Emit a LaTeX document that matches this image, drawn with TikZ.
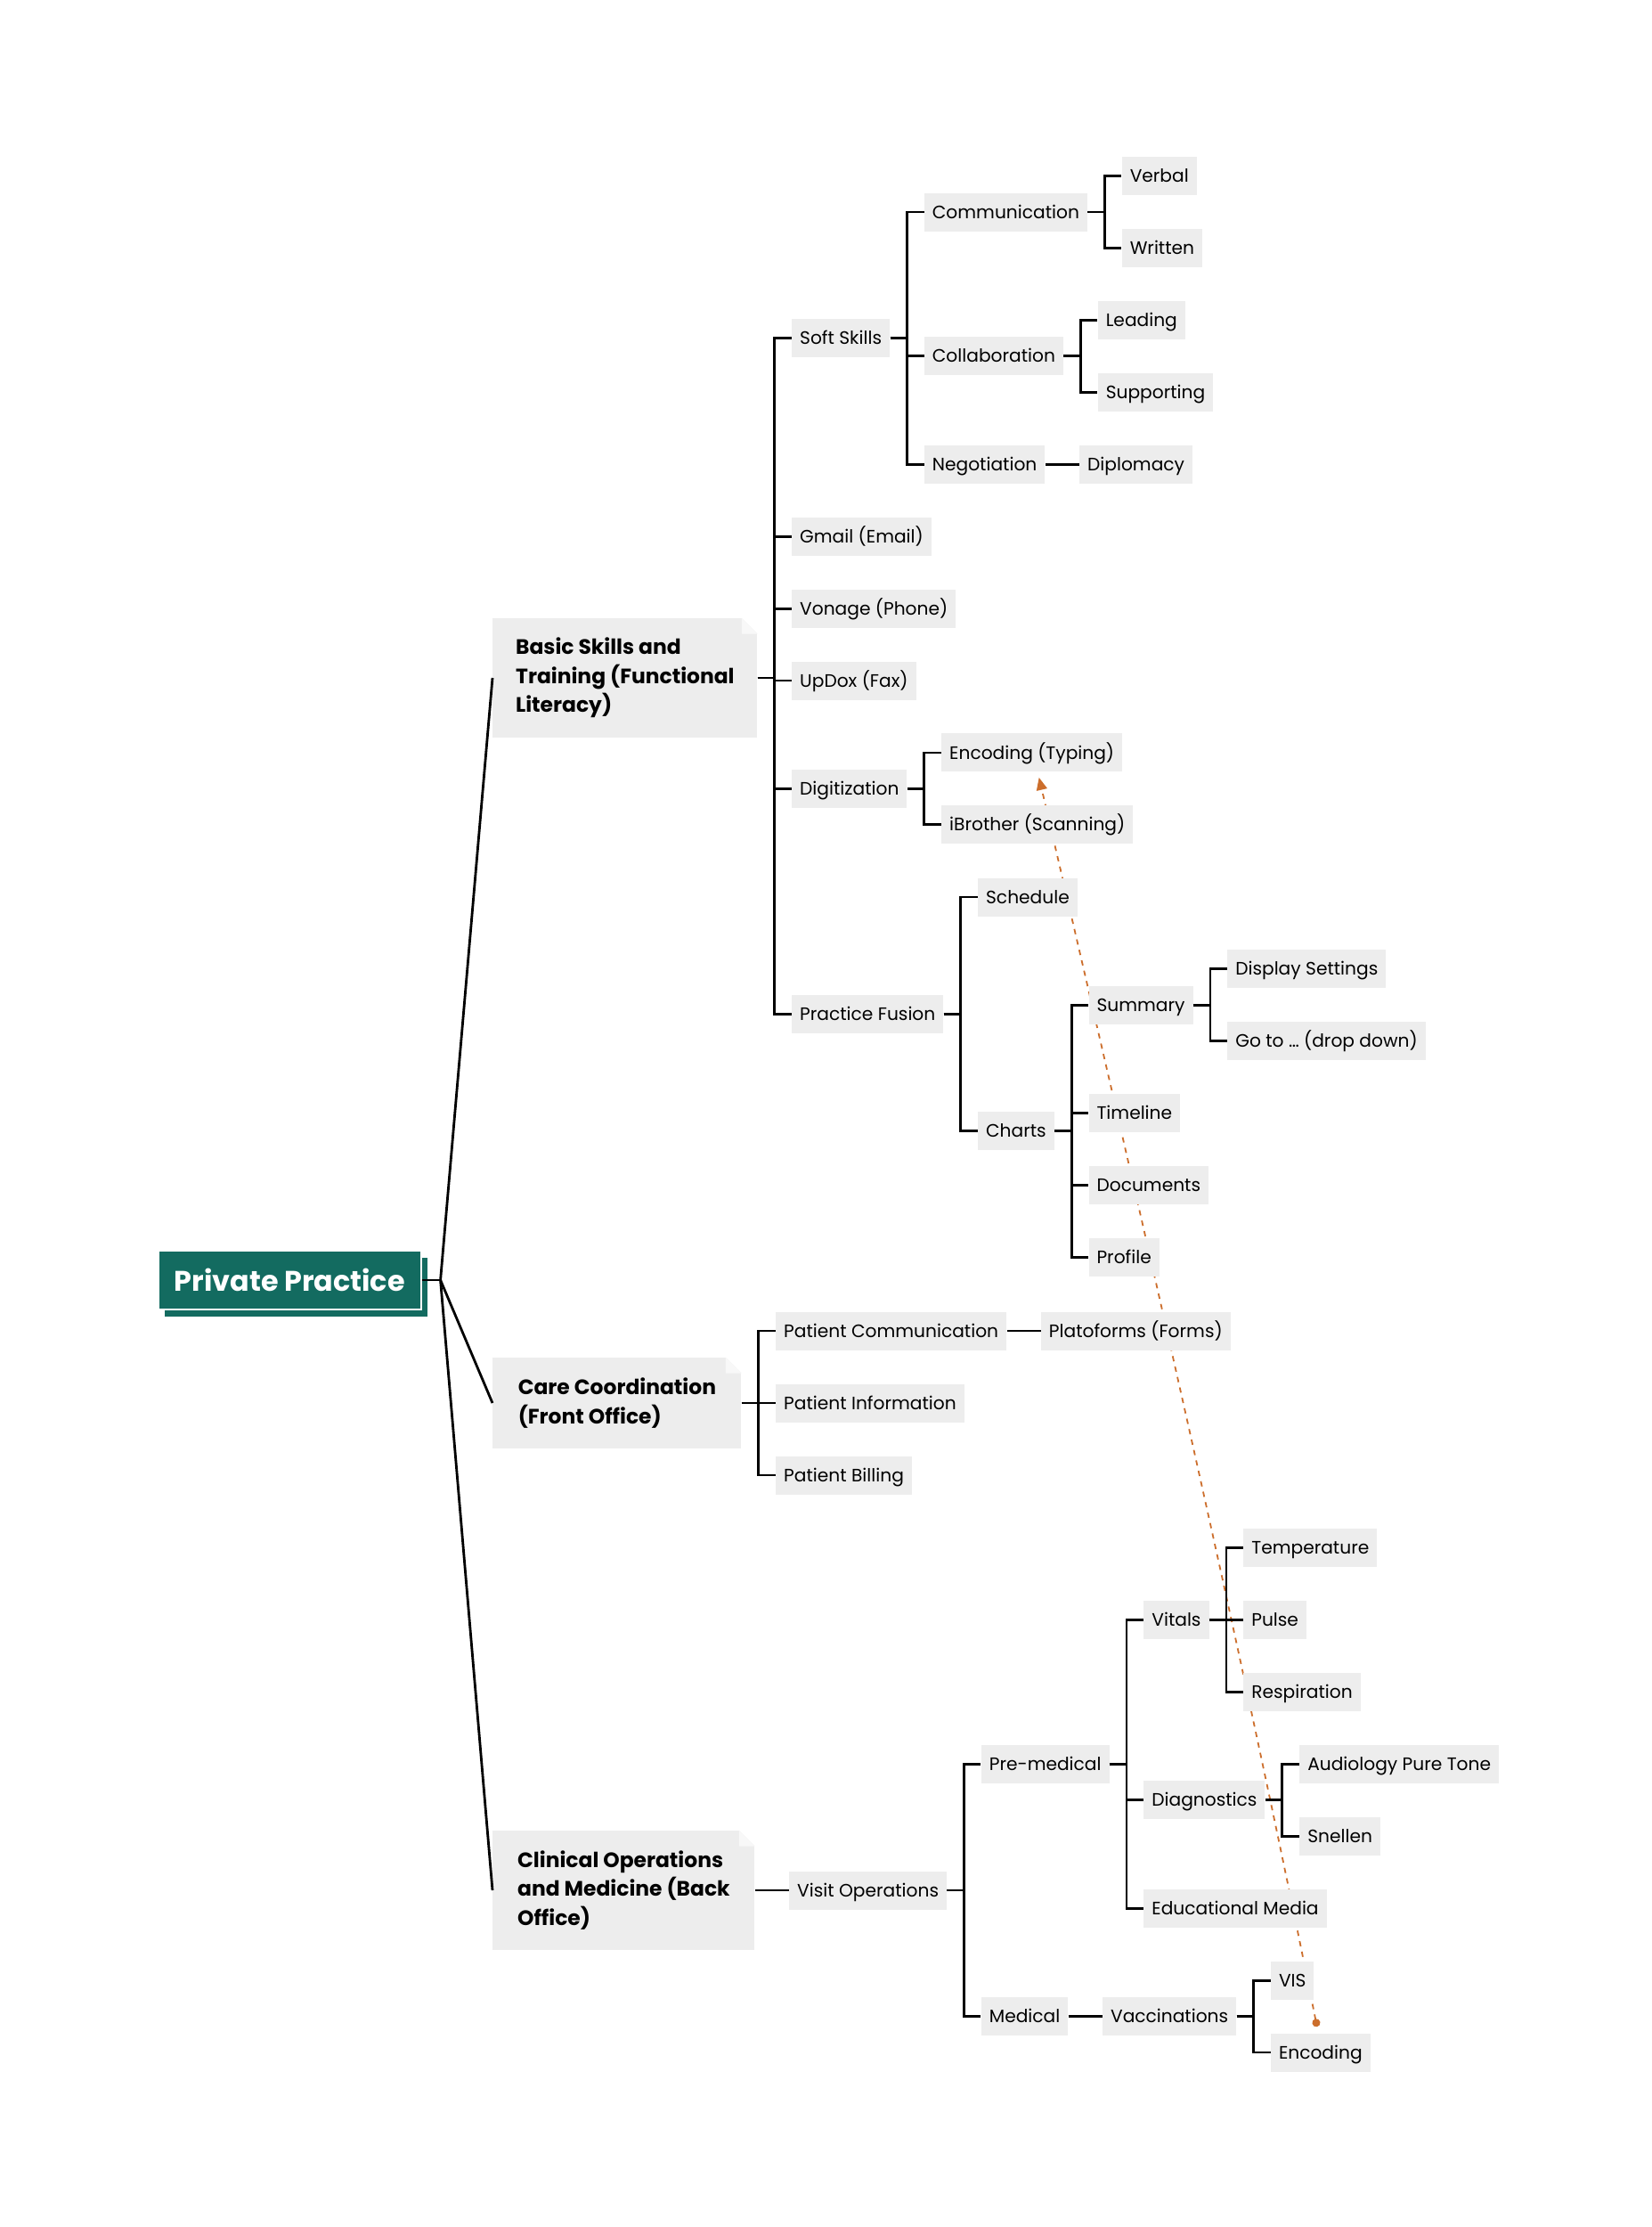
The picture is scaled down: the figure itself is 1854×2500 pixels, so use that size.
\documentclass[tikz,border=0pt]{standalone}
\usepackage{fontspec}
\setmainfont{Poppins}
\usetikzlibrary{arrows.meta,positioning,backgrounds,calc,shadows}

\definecolor{rootteal}{HTML}{136B60}
\definecolor{boxgray}{HTML}{EDEDED}
\definecolor{foldgray}{HTML}{F8F8F8}
\definecolor{linkorange}{HTML}{CC6E2C}

\begin{document}
\begin{tikzpicture}[x=0.5pt,y=-0.5pt,node distance=19pt,
    topic/.style={fill=boxgray,minimum height=21.5pt,inner xsep=4.5pt,inner ysep=0pt,
      text height=8.3pt,text depth=1.25pt,font=\fontsize{10.1}{12}\selectfont},
    branch/.style={fill=boxgray,anchor=west,inner xsep=11.5pt,inner ysep=4pt,align=left,
      font=\fontsize{11.7}{16.2}\selectfont\bfseries},
    hub/.style={fill=rootteal,draw=white,line width=0.8pt,text=white,minimum height=33pt,
      inner xsep=9pt,font=\fontsize{15.9}{18}\selectfont\bfseries,
      drop shadow={shadow xshift=3.5pt,shadow yshift=-4pt,fill=rootteal,opacity=1}},
    link/.style={line width=1.4pt}]
    \useasboundingbox (0,0) rectangle (1854,2500);

    % root and main branches
    \node[hub,anchor=west] (practice) at (177,1437) {Private Practice};
    \node[branch,minimum width=148.5pt,minimum height=67pt] (basics) at (553,761)
      {Basic Skills and\\Training (Functional\\Literacy)};
    \node[branch,minimum width=139.5pt,minimum height=51pt] (care) at (553,1575)
      {Care Coordination\\(Front Office)};
    \node[branch,minimum width=147pt,minimum height=67pt] (clinic) at (553,2122)
      {Clinical Operations\\and Medicine (Back\\Office)};

    % basic skills
    \node[topic,right=of basics,yshift=190.7pt] (softskills) {Soft Skills};
    \node[topic,right=of basics,yshift=79.4pt] (gmail) {Gmail (Email)};
    \node[topic,right=of basics,yshift=38.9pt] (vonage) {Vonage (Phone)};
    \node[topic,right=of basics,yshift=-1.5pt] (updox) {UpDox (Fax)};
    \node[topic,right=of basics,yshift=-62.2pt] (digit) {Digitization};
    \node[topic,right=of basics,yshift=-188.7pt] (fusion) {Practice Fusion};

    \node[topic,right=of softskills,yshift=70.8pt] (comm) {Communication};
    \node[topic,right=of softskills,yshift=-10.1pt] (collab) {Collaboration};
    \node[topic,right=of softskills,yshift=-70.8pt] (negot) {Negotiation};
    \node[topic,right=of negot] (diplomacy) {Diplomacy};
    \node[topic,right=of comm,yshift=20.23pt] (verbal) {Verbal};
    \node[topic,right=of comm,yshift=-20.23pt] (written) {Written};
    \node[topic,right=of collab,yshift=20.23pt] (leading) {Leading};
    \node[topic,right=of collab,yshift=-20.23pt] (supporting) {Supporting};

    \node[topic,right=of digit,yshift=20.23pt] (typing) {Encoding (Typing)};
    \node[topic,right=of digit,yshift=-20.23pt] (scanning) {iBrother (Scanning)};

    \node[topic,right=of fusion,yshift=65.7pt] (schedule) {Schedule};
    \node[topic,right=of fusion,yshift=-65.7pt] (charts) {Charts};
    \node[topic,right=of charts,yshift=70.8pt] (summary) {Summary};
    \node[topic,right=of charts,yshift=10.1pt] (timeline) {Timeline};
    \node[topic,right=of charts,yshift=-30.3pt] (documents) {Documents};
    \node[topic,right=of charts,yshift=-70.8pt] (profile) {Profile};
    \node[topic,right=of summary,yshift=20.23pt] (display) {Display Settings};
    \node[topic,right=of summary,yshift=-20.23pt] (goto) {Go to … (drop down)};

    % care coordination
    \node[topic,right=of care,yshift=40.5pt] (ptcomm) {Patient Communication};
    \node[topic,right=of care] (ptinfo) {Patient Information};
    \node[topic,right=of care,yshift=-40.5pt] (billing) {Patient Billing};
    \node[topic,right=of ptcomm] (forms) {Platoforms (Forms)};

    % clinical operations
    \node[topic,right=of clinic] (visitops) {Visit Operations};
    \node[topic,right=of visitops,yshift=70.8pt] (premed) {Pre-medical};
    \node[topic,right=of visitops,yshift=-70.8pt] (medical) {Medical};
    \node[topic,right=of premed,yshift=80.9pt] (vitals) {Vitals};
    \node[topic,right=of premed,yshift=-20.23pt] (diagnostics) {Diagnostics};
    \node[topic,right=of premed,yshift=-80.9pt] (edumedia) {Educational Media};
    \node[topic,right=of vitals,yshift=40.5pt] (temperature) {Temperature};
    \node[topic,right=of vitals] (pulse) {Pulse};
    \node[topic,right=of vitals,yshift=-40.5pt] (respiration) {Respiration};
    \node[topic,right=of diagnostics,yshift=20.23pt] (audiology) {Audiology Pure Tone};
    \node[topic,right=of diagnostics,yshift=-20.23pt] (snellen) {Snellen};
    \node[topic,right=of medical] (vaccines) {Vaccinations};
    \node[topic,right=of vaccines,yshift=20.23pt] (vis) {VIS};
    \node[topic,right=of vaccines,yshift=-20.23pt] (vacenc) {Encoding};

    % folded corners
    \foreach \b in {basics,care,clinic}{
      \fill[white] ([xshift=-9pt]\b.north east) -- (\b.north east) -- ([yshift=-9pt]\b.north east) -- cycle;
      \fill[foldgray] ([xshift=-9pt]\b.north east) -- ([xshift=-9pt,yshift=-9pt]\b.north east)
        -- ([yshift=-9pt]\b.north east) -- cycle;
    }

    % connectors
    \draw[link] (practice.east) -- ++(21,0) coordinate (fork);
    \foreach \b in {basics,care,clinic} \draw[link] (fork) -- (\b.west);
    \foreach \c in {softskills,gmail,vonage,updox,digit,fusion}
      \draw[link] (basics.east) -- ++(19,0) |- (\c.west);
    \foreach \c in {comm,collab,negot} \draw[link] (softskills.east) -- ++(19,0) |- (\c.west);
    \foreach \c in {verbal,written} \draw[link] (comm.east) -- ++(19,0) |- (\c.west);
    \foreach \c in {leading,supporting} \draw[link] (collab.east) -- ++(19,0) |- (\c.west);
    \draw[link] (negot) -- (diplomacy);
    \foreach \c in {typing,scanning} \draw[link] (digit.east) -- ++(19,0) |- (\c.west);
    \foreach \c in {schedule,charts} \draw[link] (fusion.east) -- ++(19,0) |- (\c.west);
    \foreach \c in {summary,timeline,documents,profile}
      \draw[link] (charts.east) -- ++(19,0) |- (\c.west);
    \foreach \c in {display,goto} \draw[link] (summary.east) -- ++(19,0) |- (\c.west);
    \foreach \c in {ptcomm,ptinfo,billing} \draw[link] (care.east) -- ++(19,0) |- (\c.west);
    \draw[link] (ptcomm) -- (forms);
    \draw[link] (clinic) -- (visitops);
    \foreach \c in {premed,medical} \draw[link] (visitops.east) -- ++(19,0) |- (\c.west);
    \foreach \c in {vitals,diagnostics,edumedia} \draw[link] (premed.east) -- ++(19,0) |- (\c.west);
    \foreach \c in {temperature,pulse,respiration} \draw[link] (vitals.east) -- ++(19,0) |- (\c.west);
    \foreach \c in {audiology,snellen} \draw[link] (diagnostics.east) -- ++(19,0) |- (\c.west);
    \draw[link] (medical) -- (vaccines);
    \foreach \c in {vis,vacenc} \draw[link] (vaccines.east) -- ++(19,0) |- (\c.west);

    % relation
    \begin{scope}[on background layer]
      \coordinate (relfrom) at ($(vacenc.north)+(-4,-7)$);
      \coordinate (relto) at ($(typing.south)+(8,6)$);
      \draw[linkorange,line width=0.9pt,dash pattern=on 3pt off 3pt,
        {Circle[length=4.5pt]}-{Triangle[length=7pt,width=6pt]}]
        (relfrom) .. controls ($(relfrom)!0.33!(relto)+(10,0)$) and ($(relfrom)!0.67!(relto)+(5,0)$) .. (relto);
    \end{scope}
\end{tikzpicture}
\end{document}
